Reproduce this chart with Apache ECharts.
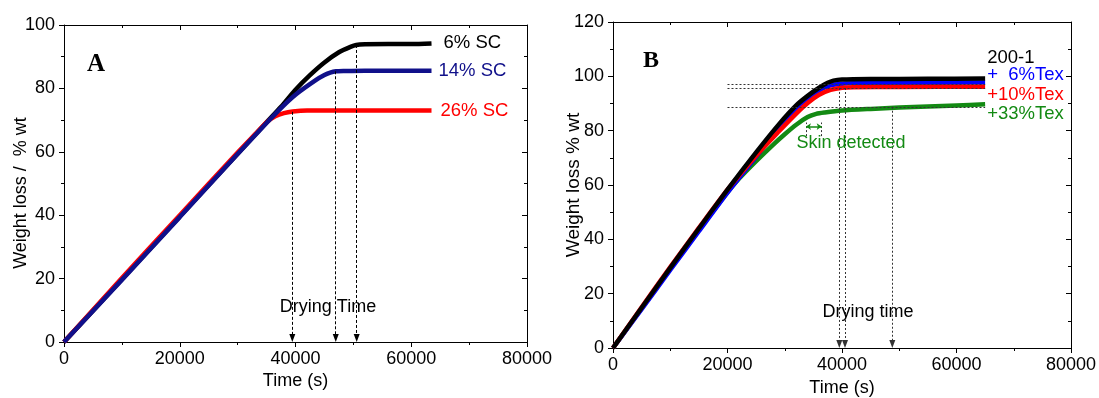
<!DOCTYPE html>
<html>
<head>
<meta charset="utf-8">
<script src="https://cdn.jsdelivr.net/npm/echarts@6/dist/echarts.min.js"></script>
<style>
  html, body { margin: 0; padding: 0; background: #fff; }
  #chart { width: 1099px; height: 398px; }
</style>
</head>
<body>
<div id="chart"></div>
<script>
// ---- panel A : solid content series ----
const a6Time = [0, 10000, 20000, 30000, 35000, 37500, 40000, 42500, 45000, 47500, 49500, 50500, 52000, 56000, 60000, 63500]
const a6Val = [0, 19.8, 39.6, 59.4, 69.3, 74.2, 79.6, 84.2, 88.2, 91.4, 93.1, 93.7, 93.9, 94, 94, 94.2]
const a14Time = [0, 10000, 20000, 30000, 35000, 37500, 40000, 43500, 45000, 46000, 47000, 48500, 52000, 56000, 60000, 63500]
const a14Val = [0, 19.6, 39.4, 59.3, 69.1, 73.8, 78, 82.6, 84.2, 85, 85.4, 85.5, 85.6, 85.6, 85.6, 85.6]
const a26Time = [0, 10000, 20000, 30000, 33000, 35000, 36500, 38000, 39500, 42000, 48000, 55000, 63500]
const a26Val = [0, 20.2, 40, 59.8, 65.5, 69.3, 71.2, 72.2, 72.7, 73, 73, 73, 73]
const aDryTime = [39450, 46950, 50570]
const aDryFrom = [72.6, 85.4, 93.7]

// ---- panel B : texanol series ----
const b0Time = [0, 5000, 10000, 15000, 20000, 25000, 29000, 32000, 34000, 36000, 37500, 38500, 40000, 45000, 55000, 65000]
const b0Val = [0, 14.8, 29.5, 44, 58.3, 72, 82.4, 89.3, 92.8, 95.8, 97.6, 98.4, 98.8, 99, 99.1, 99.2]
const b6Time = [0, 5000, 10000, 15000, 20000, 25000, 29000, 32000, 34000, 36000, 38000, 40000, 42000, 50000, 65000]
const b6Val = [0, 14.3, 28.7, 43, 57.2, 70.5, 81, 87.8, 91.5, 94.8, 96.7, 97.3, 97.5, 97.6, 97.7]
const b10Time = [0, 5000, 10000, 15000, 20000, 25000, 29000, 32000, 34000, 36000, 38000, 40000, 42000, 50000, 65000]
const b10Val = [0, 15, 29.8, 44.2, 58.3, 70.8, 79.8, 86.3, 90.2, 93.2, 95, 95.8, 96, 96.1, 96.2]
const b33Time = [0, 5000, 10000, 15000, 20000, 22000, 25000, 28000, 30000, 32000, 34000, 35500, 37000, 40000, 45000, 50000, 55000, 60000, 65000]
const b33Val = [0, 14.6, 29.2, 43.5, 57.3, 62.3, 68.8, 74.9, 78.7, 82.2, 85, 86.2, 86.7, 87.4, 88, 88.5, 88.9, 89.3, 89.7]
const bRefLevels = [97.2, 95.7, 88.8]
const bRefStart = 20000
const bRefEnd = 65000
const bDryTime = [39530, 40520, 48790]
const bSkin = [33710, 36450, 81.5]

const FONT = 'Liberation Sans'
const pairs = (t, v) => t.map((x, i) => [x, v[i]])
const plain = v => String(v)

function xAxisPair(grid) {
  const base = {
    type: 'value', gridIndex: grid, min: 0, max: 80000, interval: 20000,
    splitLine: { show: false },
    axisLine: { show: true, onZero: false, lineStyle: { color: '#000', width: 1 } },
    axisTick: { show: true, length: 5, lineStyle: { color: '#000' } },
    minorTick: { show: true, splitNumber: 2, length: 3, lineStyle: { color: '#000' } }
  }
  return [
    Object.assign({}, base, {
      position: 'bottom',
      axisLabel: { color: '#000', fontSize: 18, fontFamily: FONT, margin: 8, formatter: plain },
      name: 'Time (s)', nameLocation: 'middle', nameGap: grid === 0 ? 30 : 31, nameMoveOverlap: false,
      nameTextStyle: { color: '#000', fontSize: 18, fontFamily: FONT }
    }),
    Object.assign({}, base, {
      position: 'top',
      axisLabel: { show: false },
      axisTick: { show: true, inside: true, length: 5, lineStyle: { color: '#000' } }
    })
  ]
}

function yAxisPair(grid, max, name, gap) {
  const base = {
    type: 'value', gridIndex: grid, min: 0, max: max, interval: 20,
    splitLine: { show: false },
    axisLine: { show: true, onZero: false, lineStyle: { color: '#000', width: 1 } },
    axisTick: { show: true, length: 5, lineStyle: { color: '#000' } },
    minorTick: { show: true, splitNumber: 2, length: 3, lineStyle: { color: '#000' } }
  }
  return [
    Object.assign({}, base, {
      position: 'left',
      axisLabel: { color: '#000', fontSize: 18, fontFamily: FONT, margin: 9, formatter: plain },
      name: name, nameLocation: 'middle', nameGap: gap, nameMoveOverlap: false,
      nameTextStyle: { color: '#000', fontSize: 19, fontFamily: FONT }
    }),
    Object.assign({}, base, {
      position: 'right',
      axisLabel: { show: false },
      axisTick: { show: true, inside: true, length: 5, lineStyle: { color: '#000' } }
    })
  ]
}

function curve(name, t, v, color, xi, yi, offset, width) {
  return {
    name: name, type: 'line', xAxisIndex: xi, yAxisIndex: yi,
    data: pairs(t, v), showSymbol: false, symbol: 'none',
    smooth: 0.25,
    lineStyle: { color: color, width: width || 4.5 },
    itemStyle: { color: color },
    endLabel: {
      show: true, formatter: name, color: color, fontSize: 18.5, fontFamily: FONT,
      distance: 8, offset: offset
    },
    z: 3
  }
}

// dashed guide lines with arrow heads at the time axis
function dryLines(times, froms, tip) {
  return times.map((t, i) => [
    { coord: [t, froms[i]], symbol: 'none' },
    { coord: [t, tip], symbol: 'triangle', symbolSize: [6, 8] }
  ])
}

const guide = { color: '#000', width: 1, type: [3, 2] }

const series = [
  curve('6% SC', a6Time, a6Val, '#000000', 0, 0, [4, 0]),
  curve('26% SC', a26Time, a26Val, '#ff0000', 0, 0, [1, 0]),
  curve('14% SC', a14Time, a14Val, '#10108a', 0, 0, [-1, 0]),
  {
    type: 'line', xAxisIndex: 0, yAxisIndex: 0, data: [], z: 4,
    markLine: {
      silent: true, symbol: ['none', 'triangle'], symbolSize: [6, 8],
      label: { show: false }, lineStyle: guide, animation: false,
      data: dryLines(aDryTime, aDryFrom, 1.3)
    },
    markPoint: {
      silent: true, symbol: 'rect', symbolSize: 1, itemStyle: { color: 'rgba(0,0,0,0)' },
      label: { show: true, position: 'inside', color: '#000', fontSize: 18, fontFamily: FONT, formatter: p => p.name },
      data: [{ name: 'Drying Time', coord: [45620, 11.1] }]
    }
  },
  curve('+33%Tex', b33Time, b33Val, '#138a13', 2, 2, [-6, 10]),
  curve('+  6%Tex', b6Time, b6Val, '#0000ff', 2, 2, [-6, -8]),
  curve('+10%Tex', b10Time, b10Val, '#ff0000', 2, 2, [-6, 8]),
  curve('200-1', b0Time, b0Val, '#000000', 2, 2, [-6, -21]),
  {
    type: 'line', xAxisIndex: 2, yAxisIndex: 2, data: [], z: 2,
    markLine: {
      silent: true, symbol: ['none', 'none'],
      label: { show: false }, lineStyle: { color: '#333', width: 1, type: [2, 2] }, animation: false,
      data: bRefLevels.map(v => [{ coord: [bRefStart, v] }, { coord: [bRefEnd, v] }])
    }
  },
  {
    type: 'line', xAxisIndex: 2, yAxisIndex: 2, data: [], z: 4,
    markLine: {
      silent: true, symbol: ['none', 'triangle'], symbolSize: [6, 8],
      label: { show: false }, lineStyle: { color: '#333', width: 1, type: [2, 2] }, animation: false,
      data: dryLines(bDryTime, bRefLevels, 1.5).concat([
        [{ coord: [bSkin[0], bSkin[2] - 3.5], symbol: 'none' }, { coord: [bSkin[0], bSkin[2] + 1.5], symbol: 'none' }],
        [{ coord: [bSkin[1], bSkin[2] - 3.5], symbol: 'none' }, { coord: [bSkin[1], bSkin[2] + 1.5], symbol: 'none' }]
      ])
    },
    markPoint: {
      silent: true, symbol: 'rect', symbolSize: 1, itemStyle: { color: 'rgba(0,0,0,0)' },
      label: { show: true, position: 'inside', fontSize: 18, fontFamily: FONT, formatter: p => p.name },
      data: [
        { name: 'Drying time', coord: [44540, 13.4], label: { color: '#000' } },
        { name: 'Skin detected', coord: [41570, 75.6], label: { color: '#138a13' } }
      ]
    }
  },
  {
    type: 'line', xAxisIndex: 2, yAxisIndex: 2, data: [], z: 5,
    markLine: {
      silent: true, symbol: ['arrow', 'arrow'], symbolSize: [5, 5],
      label: { show: false }, lineStyle: { color: '#138a13', width: 1.5, type: 'solid' }, animation: false,
      data: [[{ coord: [bSkin[0], bSkin[2]] }, { coord: [bSkin[1], bSkin[2]] }]]
    }
  }
]

const chart = echarts.init(document.getElementById('chart'), null, { renderer: 'canvas' })
chart.setOption({
  animation: false,
  backgroundColor: '#fff',
  grid: [
    { left: 64, top: 25, width: 463, height: 317, outerBoundsMode: 'none' },
    { left: 613, top: 22, width: 458, height: 326, outerBoundsMode: 'none' }
  ],
  xAxis: xAxisPair(0).concat(xAxisPair(1)),
  // panel A's y title sits a little below the axis middle, so it is drawn as a graphic
  yAxis: yAxisPair(0, 100, '', 33).concat(yAxisPair(1, 120, 'Weight loss % wt', 30)),
  graphic: [
    { type: 'text', left: 87, top: 52, style: { text: 'A', font: 'bold 25px "Liberation Serif"', fill: '#000' } },
    { type: 'text', left: 643, top: 49, style: { text: 'B', font: 'bold 24px "Liberation Serif"', fill: '#000' } },
    {
      type: 'text', x: 21, y: 193, rotation: Math.PI / 2,
      style: { text: 'Weight loss /  % wt', font: '18px "Liberation Sans"', fill: '#000', align: 'center', verticalAlign: 'middle' }
    }
  ],
  series: series
})
</script>
</body>
</html>
